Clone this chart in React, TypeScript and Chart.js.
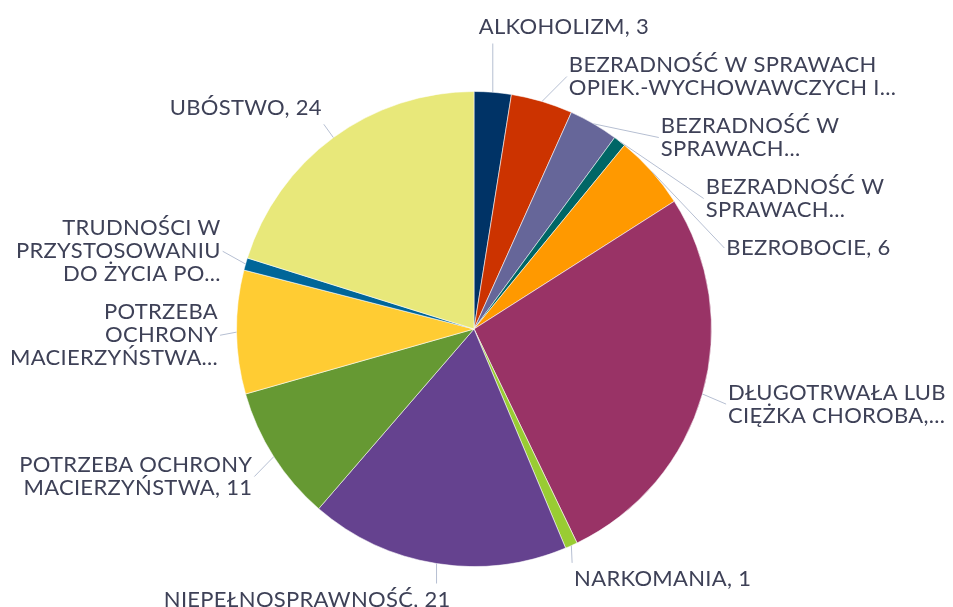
import { useEffect, useRef } from "react";
import { Chart, ArcElement, PieController } from "chart.js";

Chart.register(ArcElement, PieController);

const categories = [
  "ALKOHOLIZM",
  "BEZRADNOŚĆ W SPRAWACH OPIEK.-WYCHOWAWCZYCH I...",
  "BEZRADNOŚĆ W SPRAWACH...",
  "BEZRADNOŚĆ W SPRAWACH...",
  "BEZROBOCIE",
  "DŁUGOTRWAŁA LUB CIĘŻKA CHOROBA,...",
  "NARKOMANIA",
  "NIEPEŁNOSPRAWNOŚĆ",
  "POTRZEBA OCHRONY MACIERZYŃSTWA",
  "POTRZEBA OCHRONY MACIERZYŃSTWA...",
  "TRUDNOŚCI W PRZYSTOSOWANIU DO ŻYCIA PO...",
  "UBÓSTWO",
];

const values = [3, 5, 4, 1, 6, 32, 1, 21, 11, 10, 1, 24];

// Label text as displayed (wrapped lines)
const labelLines = [
  ["ALKOHOLIZM, 3"],
  ["BEZRADNOŚĆ W SPRAWACH", "OPIEK.-WYCHOWAWCZYCH I..."],
  ["BEZRADNOŚĆ W", "SPRAWACH..."],
  ["BEZRADNOŚĆ W", "SPRAWACH..."],
  ["BEZROBOCIE, 6"],
  ["DŁUGOTRWAŁA LUB", "CIĘŻKA CHOROBA,..."],
  ["NARKOMANIA, 1"],
  ["NIEPEŁNOSPRAWNOŚĆ, 21"],
  ["POTRZEBA OCHRONY", "MACIERZYŃSTWA, 11"],
  ["POTRZEBA", "OCHRONY", "MACIERZYŃSTWA..."],
  ["TRUDNOŚCI W", "PRZYSTOSOWANIU", "DO ŻYCIA PO..."],
  ["UBÓSTWO, 24"],
];

const colors = [
  "#003366",
  "#cc3300",
  "#666699",
  "#006666",
  "#ff9900",
  "#993366",
  "#99cc33",
  "#65428f",
  "#669933",
  "#ffcc33",
  "#006699",
  "#e8e87a",
];

type Item = {
  i: number;
  c: number;
  s: number;
  ax: number;
  ay: number;
  target: number;
  lines: string[];
  w: number;
  h: number;
  size: number;
  right: boolean;
  y: number;
  left: number;
};

function distribute(list: Item[], minY: number, maxY: number) {
  list.sort((a, b) => a.target - b.target);
  let groups = list.map((it) => ({
    items: [it],
    size: it.size,
    start: it.target - it.size / 2,
  }));
  for (let guard = 0; guard < 100; guard++) {
    for (const g of groups) {
      if (g.start < minY) g.start = minY;
      if (g.start + g.size > maxY) g.start = maxY - g.size;
    }
    let merged = false;
    for (let k = 0; k < groups.length - 1; k++) {
      const a = groups[k];
      const b = groups[k + 1];
      if (a.start + a.size > b.start + 0.01) {
        const items = a.items.concat(b.items);
        const size = a.size + b.size;
        let off = 0;
        let sum = 0;
        for (const it of items) {
          sum += it.target - off - it.size / 2;
          off += it.size;
        }
        groups.splice(k, 2, { items, size, start: sum / items.length });
        merged = true;
        break;
      }
    }
    if (!merged) break;
  }
  for (const g of groups) {
    let off = g.start;
    for (const it of g.items) {
      it.y = off + it.size / 2;
      off += it.size;
    }
  }
}

const outsideLabels = {
  id: "outsideLabels",
  afterDatasetsDraw(chart: any, _args: any, opts: any) {
    const ctx: CanvasRenderingContext2D = chart.ctx;
    const meta = chart.getDatasetMeta(0);
    const arcs = meta.data;
    if (!arcs.length) return;
    const cx = arcs[0].x;
    const cy = arcs[0].y;
    const R = arcs[0].outerRadius;
    const ry = R + opts.targetOffset;
    const rx = R + opts.edgeOffset;
    const ryE = R + opts.ellipseOffset;
    const lh = opts.lineHeight;
    ctx.save();
    ctx.font = opts.font;
    (ctx as any).letterSpacing = opts.letterSpacing;
    const items: Item[] = arcs.map((arc: any, i: number) => {
      const mid = (arc.startAngle + arc.endAngle) / 2;
      const c = Math.cos(mid);
      const s = Math.sin(mid);
      const lines: string[] = opts.lines[i];
      const w = Math.max(...lines.map((l) => ctx.measureText(l).width));
      const h = lines.length * lh;
      return {
        i,
        c,
        s,
        ax: cx + R * c,
        ay: cy + R * s,
        target: cy + ry * s,
        lines,
        w,
        h,
        size: h + opts.pad,
        right: c >= -1e-6,
        y: 0,
        left: 0,
      };
    });
    const rightSide = items.filter((it) => it.right);
    const leftSide = items.filter((it) => !it.right);
    distribute(rightSide, opts.minY, chart.height + opts.maxYExtra);
    distribute(leftSide, opts.minY, chart.height + opts.maxYExtra);

    for (const it of items) {
      const dy = it.y - cy;
      const k = 1 - (dy / ryE) * (dy / ryE);
      const xoff = k > 0 ? rx * Math.sqrt(k) : 0;
      let edge = it.right
        ? Math.max(cx + xoff, it.ax - opts.anchorInset)
        : Math.min(cx - xoff, it.ax + opts.anchorInset);
      // keep label inside the canvas
      if (it.right) edge = Math.min(edge, chart.width - opts.margin - it.w);
      else edge = Math.max(edge, opts.margin + it.w);
      it.left = it.right ? edge : edge - it.w;
      const rightX = it.left + it.w;
      const top = it.y - it.h / 2;
      const bottom = it.y + it.h / 2;
      const dxOut =
        it.ax < it.left ? it.left - it.ax : it.ax > rightX ? it.ax - rightX : 0;
      const outsideV = it.ay < top || it.ay > bottom;
      let ex: number;
      let ey: number;
      if (outsideV && dxOut <= opts.cornerReach) {
        ex = Math.min(Math.max(it.ax, it.left - opts.gapH), rightX + opts.gapH);
        ey = it.ay > bottom ? bottom + opts.gapV : top - opts.gapV;
      } else {
        ex = it.right ? it.left - opts.gapH : rightX + opts.gapH;
        ey = it.y;
      }
      ctx.beginPath();
      ctx.strokeStyle = opts.lineColor;
      ctx.lineWidth = 1;
      ctx.moveTo(it.ax, it.ay);
      ctx.lineTo(ex, ey);
      ctx.stroke();

      ctx.fillStyle = opts.color;
      ctx.textBaseline = "middle";
      ctx.textAlign = it.right ? "left" : "right";
      it.lines.forEach((line, j) => {
        ctx.fillText(line, edge, top + lh / 2 + j * lh);
      });
    }
    ctx.restore();
  },
};

export default function App() {
  const ref = useRef<HTMLCanvasElement | null>(null);
  useEffect(() => {
    if (!ref.current) return;
    const chart = new Chart(ref.current, {
      type: "pie",
      data: {
        labels: categories,
        datasets: [
          {
            data: values,
            backgroundColor: colors,
            borderColor: "rgba(255,255,255,0.55)",
            borderWidth: 1,
          },
        ],
      },
      options: {
        animation: false,
        responsive: false,
        devicePixelRatio: 1,
        layout: { padding: { left: 228, right: 241, top: 83, bottom: 40 } },
        plugins: {
          legend: { display: false },
          tooltip: { enabled: false },
          outsideLabels: {
            lines: labelLines,
            font: "22px Lato",
            letterSpacing: "0.3px",
            lineHeight: 23,
            color: "#3e4157",
            lineColor: "#b6bfd2",
            pad: 15,
            targetOffset: 37,
            edgeOffset: 27,
            ellipseOffset: 33,
            anchorInset: 14,
            minY: 0,
            maxYExtra: 12,
            margin: 2,
            gapV: 5,
            gapH: 2,
            cornerReach: 20,
          },
        } as any,
      },
      plugins: [outsideLabels as any],
    });
    return () => chart.destroy();
  }, []);
  return (
    <div>
      <canvas ref={ref} width={945} height={599} style={{ display: "block" }} />
    </div>
  );
}
